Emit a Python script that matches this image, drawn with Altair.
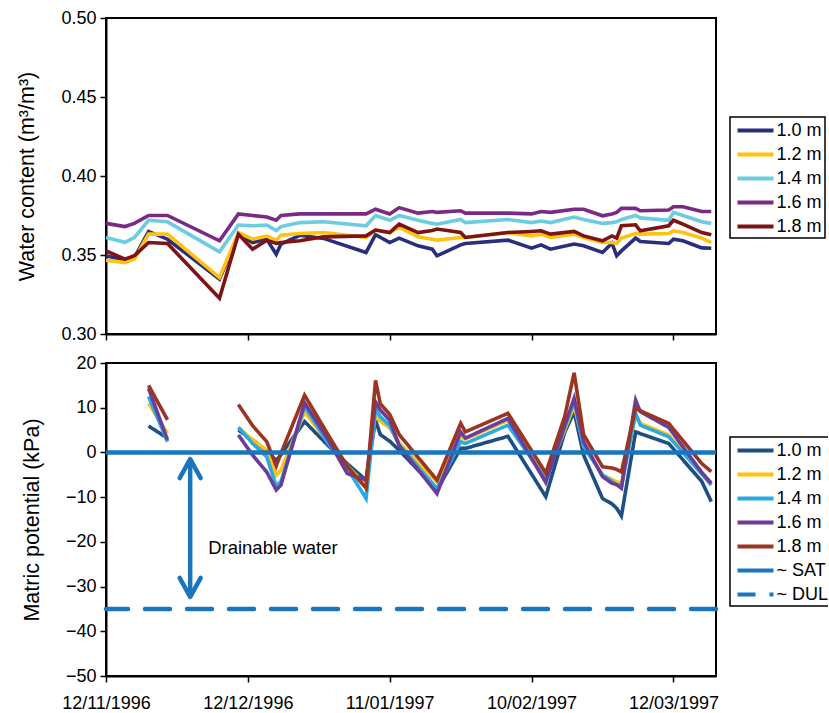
import altair as alt
import pandas as pd

FONT = "Liberation Sans"

# Sensor depths (legend order)
depths = ["1.0 m", "1.2 m", "1.4 m", "1.6 m", "1.8 m"]

# x axis: days after 12/11/1996, ticks every 30 days
tick_days = [0, 30, 60, 90, 120]
tick_labels = ["12/11/1996", "12/12/1996", "11/01/1997", "10/02/1997", "12/03/1997"]
x_end = 129

# ---- volumetric water content (m3/m3) ----
wc_days = [0, 4, 6, 9, 13, 24, 28, 31, 34, 36, 37, 41, 46, 55, 57, 60, 62, 66, 69, 70,
           75, 76, 85, 90, 92, 94, 99, 101, 105, 107, 108, 109, 112, 113, 119, 120, 122, 126, 128]
wc_10 = [0.3495, 0.3467, 0.3484, 0.3649, 0.3600, 0.3347, 0.3632, 0.3579, 0.3600, 0.3505,
         0.3569, 0.3625, 0.3605, 0.3516, 0.3628, 0.3579, 0.3607, 0.3558, 0.3537, 0.3495,
         0.3564, 0.3573, 0.3594, 0.3543, 0.3564, 0.3537, 0.3569, 0.3558, 0.3516, 0.3575,
         0.3495, 0.3526, 0.3607, 0.3585, 0.3573, 0.3600, 0.3590, 0.3545, 0.3543]
wc_12 = [0.3467, 0.3452, 0.3474, 0.3632, 0.3632, 0.3357, 0.3642, 0.3600, 0.3620, 0.3594,
         0.3625, 0.3636, 0.3642, 0.3611, 0.3658, 0.3642, 0.3674, 0.3615, 0.3600, 0.3594,
         0.3611, 0.3611, 0.3642, 0.3621, 0.3632, 0.3611, 0.3632, 0.3611, 0.3579, 0.3579,
         0.3573, 0.3607, 0.3636, 0.3632, 0.3636, 0.3653, 0.3642, 0.3607, 0.3579]
wc_14 = [0.3610, 0.3580, 0.3610, 0.3720, 0.3710, 0.3520, 0.3690, 0.3685, 0.3690, 0.3655,
         0.3680, 0.3705, 0.3710, 0.3685, 0.3750, 0.3720, 0.3750, 0.3720, 0.3700, 0.3695,
         0.3725, 0.3705, 0.3725, 0.3705, 0.3715, 0.3705, 0.3740, 0.3725, 0.3700, 0.3705,
         0.3710, 0.3725, 0.3750, 0.3735, 0.3720, 0.3770, 0.3750, 0.3710, 0.3700]
wc_16 = [0.3700, 0.3680, 0.3700, 0.3750, 0.3750, 0.3590, 0.3760, 0.3750, 0.3740, 0.3720,
         0.3750, 0.3760, 0.3760, 0.3760, 0.3790, 0.3760, 0.3800, 0.3765, 0.3775, 0.3770,
         0.3780, 0.3765, 0.3765, 0.3760, 0.3775, 0.3770, 0.3790, 0.3790, 0.3748, 0.3760,
         0.3770, 0.3795, 0.3795, 0.3780, 0.3785, 0.3805, 0.3805, 0.3775, 0.3775]
wc_18 = [0.3526, 0.3474, 0.3495, 0.3579, 0.3573, 0.3226, 0.3632, 0.3537, 0.3594, 0.3573,
         0.3579, 0.3590, 0.3615, 0.3621, 0.3658, 0.3642, 0.3696, 0.3642, 0.3655, 0.3664,
         0.3642, 0.3611, 0.3642, 0.3649, 0.3653, 0.3632, 0.3649, 0.3621, 0.3590, 0.3621,
         0.3607, 0.3685, 0.3691, 0.3653, 0.3685, 0.3720, 0.3696, 0.3642, 0.3628]

# ---- matric potential (kPa) ----
mp_days = [9, 13, 28, 31, 34, 36, 37, 42, 47, 51, 55, 57, 58, 60, 62, 70, 75, 76, 85, 93,
           97, 99, 101, 105, 107, 108, 109, 112, 113, 119, 126, 128]
mp_gap_after = 13  # no readings between day 13 and day 28
mp_10 = [5.9, 3.2, 5.0, 2.8, 0.3, -1.8, -0.5, 6.9, 1.5, -2.5, -6.2, 7.2, 4.0, 2.5, 0.5, -8.4,
         0.9, 0.9, 3.6, -9.9, 4.5, 9.1, -0.6, -10.3, -11.5, -12.5, -14.2, 4.6, 4.2, 2.0, -6.5, -11.0]
mp_12 = [11.0, 4.3, 5.6, 2.8, 0.5, -5.1, -4.0, 9.1, 2.2, -3.0, -7.3, 8.8, 7.0, 5.5, 2.1, -6.6,
         3.5, 3.0, 7.2, -5.5, 5.0, 10.5, 1.7, -5.1, -6.0, -6.6, -6.8, 8.3, 6.5, 3.9, -4.5, -6.9]
mp_14 = [12.5, 2.4, 5.6, 2.0, -1.0, -7.5, -6.5, 10.3, 2.0, -3.5, -10.3, 9.9, 8.0, 6.0, 1.7, -8.1,
         2.4, 2.0, 6.1, -5.9, 5.5, 11.5, 1.3, -5.0, -6.5, -7.2, -7.5, 8.8, 6.1, 3.5, -4.8, -7.3]
mp_16 = [14.3, 2.8, 3.9, -0.6, -4.4, -8.4, -7.3, 11.1, 2.8, -4.7, -6.2, 11.3, 9.5, 7.2, 1.5, -9.2,
         4.6, 3.2, 7.6, -6.7, 6.0, 12.1, 2.4, -5.4, -6.9, -7.2, -8.0, 11.7, 9.1, 5.6, -4.5, -6.9]
mp_18 = [15.0, 7.3, 10.7, 6.0, 2.4, -3.0, -0.2, 12.8, 3.9, -3.1, -8.0, 16.1, 10.9, 8.5, 4.0, -6.2,
         6.5, 4.6, 8.75, -4.6, 8.0, 17.8, 4.0, -3.2, -3.5, -3.8, -4.4, 9.9, 9.3, 6.5, -2.5, -4.3]

# reference potentials
ref_labels = ["~ SAT", "~ DUL"]
sat_kpa = 0
dul_kpa = -35

# drainable-water annotation
arrow_day = [17.8]
arrow_top = [-1.5]
arrow_bottom = [-32.3]
note_day = [21.6]
note_kpa = [-21.3]
note_text = ["Drainable water"]

wc_colors = ["#2b2e7c", "#ffc20f", "#6dcde0", "#7a2a86", "#7d1315"]
mp_colors = ["#1d4f82", "#ffc20f", "#2aaae2", "#6a3d9a", "#9b3521"]
ref_color = "#1b75bc"

# ---- tables ----
wc_df = pd.DataFrame([
    {"day": d, "theta": v, "depth": name}
    for name, vals in zip(depths, [wc_10, wc_12, wc_14, wc_16, wc_18])
    for d, v in zip(wc_days, vals)
])
mp_df = pd.DataFrame([
    {"day": d, "kpa": v, "series": name, "run": 1 if d <= mp_gap_after else 2}
    for name, vals in zip(depths, [mp_10, mp_12, mp_14, mp_16, mp_18])
    for d, v in zip(mp_days, vals)
])
sat_df = pd.DataFrame({"kpa": [sat_kpa], "series": [ref_labels[0]]})
dul_df = pd.DataFrame({"kpa": [dul_kpa], "series": [ref_labels[1]]})
arrow_df = pd.DataFrame({"day": arrow_day, "top": arrow_top, "bottom": arrow_bottom})
note_df = pd.DataFrame({"day": note_day, "kpa": note_kpa, "text": note_text})

label_expr = " : ".join(
    f"datum.value == {d} ? '{t}'" for d, t in zip(tick_days, tick_labels)
) + " : ''"

x_scale = alt.Scale(domain=[0, x_end], nice=False, zero=False)


def legend_at(x, y):
    return alt.Legend(
        title=None, orient="none", legendX=x, legendY=y,
        symbolType="M-1,0H3", symbolSize=324, symbolStrokeWidth=4, symbolOffset=3,
        labelOffset=19, rowPadding=4, padding=2.5,
        strokeColor="black", labelFontSize=18, labelFont=FONT, labelColor="black",
    )


# ---- top panel: water content ----
wc_x = alt.X("day:Q", scale=x_scale,
             axis=alt.Axis(values=tick_days, labels=False, title=None))
wc_y = alt.Y("theta:Q", scale=alt.Scale(domain=[0.30, 0.50], nice=False, zero=False),
             axis=alt.Axis(values=[0.30, 0.35, 0.40, 0.45, 0.50], format=".2f",
                           title="Water content (m³/m³)"))
top = alt.Chart(wc_df).mark_line(strokeWidth=3.6).encode(
    x=wc_x, y=wc_y,
    color=alt.Color("depth:N", scale=alt.Scale(domain=depths, range=wc_colors),
                    legend=legend_at(624, 99)),
).properties(width=610, height=316)

# ---- bottom panel: matric potential ----
mp_series = depths + ref_labels
mp_color = alt.Scale(domain=mp_series, range=mp_colors + [ref_color, ref_color])
mp_dash = alt.Scale(domain=mp_series, range=[[1, 0]] * 6 + [[18, 14]])
mp_legend = legend_at(624, 74)

mp_x = alt.X("day:Q", scale=x_scale,
             axis=alt.Axis(values=tick_days, labelExpr=label_expr, title=None, labelPadding=12))
mp_y_scale = alt.Scale(domain=[-50, 20], nice=False, zero=False)
mp_y = alt.Y("kpa:Q", scale=mp_y_scale,
             axis=alt.Axis(values=[-50, -40, -30, -20, -10, 0, 10, 20],
                           title="Matric potential (kPa)"))

mp_lines = alt.Chart(mp_df).mark_line(strokeWidth=3.6).encode(
    x=mp_x, y=mp_y,
    color=alt.Color("series:N", scale=mp_color, legend=mp_legend),
    strokeDash=alt.StrokeDash("series:N", scale=mp_dash, legend=mp_legend),
    detail="run:N",
)
sat_rule = alt.Chart(sat_df).mark_rule(strokeWidth=4.5).encode(
    y=alt.Y("kpa:Q", scale=mp_y_scale),
    color=alt.Color("series:N", scale=mp_color, legend=mp_legend),
)
dul_rule = alt.Chart(dul_df).mark_rule(strokeWidth=4.5, strokeDash=[25, 17], strokeCap="round").encode(
    y=alt.Y("kpa:Q", scale=mp_y_scale),
    color=alt.Color("series:N", scale=mp_color, legend=mp_legend),
)
arrow_shaft = alt.Chart(arrow_df).mark_rule(strokeWidth=4.5, color=ref_color).encode(
    x=alt.X("day:Q", scale=x_scale), y=alt.Y("top:Q", scale=mp_y_scale), y2="bottom:Q",
)
head_up = alt.Chart(arrow_df).mark_point(
    shape="M-1,1.8L0,0L1,1.8", size=441, filled=False, strokeWidth=4.5,
    color=ref_color, opacity=1, strokeJoin="round", strokeCap="round",
).encode(x=alt.X("day:Q", scale=x_scale), y=alt.Y("top:Q", scale=mp_y_scale))
head_down = alt.Chart(arrow_df).mark_point(
    shape="M-1,-1.8L0,0L1,-1.8", size=441, filled=False, strokeWidth=4.5,
    color=ref_color, opacity=1, strokeJoin="round", strokeCap="round",
).encode(x=alt.X("day:Q", scale=x_scale), y=alt.Y("bottom:Q", scale=mp_y_scale))
note = alt.Chart(note_df).mark_text(
    align="left", baseline="middle", fontSize=18.5, font=FONT, color="black",
).encode(x=alt.X("day:Q", scale=x_scale), y=alt.Y("kpa:Q", scale=mp_y_scale), text="text:N")

bottom = alt.layer(
    mp_lines, sat_rule, dul_rule, arrow_shaft, head_up, head_down, note
).properties(width=610, height=313)

chart = alt.vconcat(top, bottom, spacing=9).resolve_scale(
    color="independent", strokeDash="independent"
).resolve_legend(
    color="independent", strokeDash="independent"
).properties(
    padding={"left": 15, "top": 8, "right": -5, "bottom": 2},
    background="white",
).configure_axis(
    domainColor="black", domainWidth=2, tickColor="black", tickWidth=1.5, tickSize=6,
    labelFont=FONT, labelFontSize=18, labelColor="black", labelPadding=4, labelFlush=False,
    titleFont=FONT, titleFontSize=21.5, titleFontWeight="normal", titleColor="black",
    titlePadding=22, grid=False,
).configure_view(
    stroke="black", strokeWidth=2,
).configure_legend(
    strokeWidth=1.5,
)

chart.save("out.html", embed_options={"renderer": "svg", "actions": False})
